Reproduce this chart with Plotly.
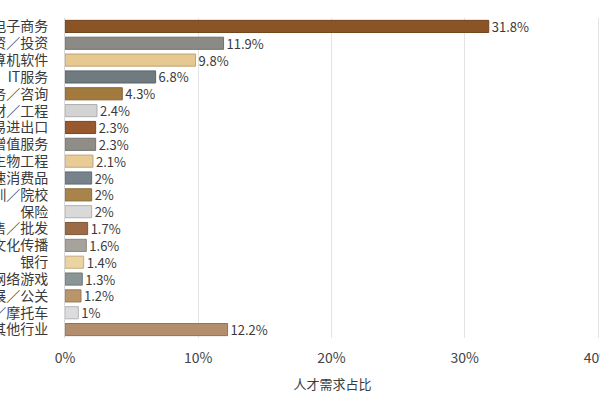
import plotly.graph_objects as go

# industries, top to bottom (left part of each label falls outside the canvas)
industries = [
    "互联网／电子商务", "融资／投资", "计算机软件", "IT服务", "专业服务／咨询",
    "建筑／建材／工程", "贸易进出口", "通信增值服务", "医药生物工程", "快速消费品",
    "教育／培训／院校", "保险", "零售／批发", "媒体文化传播", "银行",
    "网络游戏", "会展／公关", "汽车／摩托车", "其他行业",
]
share = [31.8, 11.9, 9.8, 6.8, 4.3, 2.4, 2.3, 2.3, 2.1, 2.0,
         2.0, 2.0, 1.7, 1.6, 1.4, 1.3, 1.2, 1.0, 12.2]
bar_colors = [
    "#8a5424", "#8c8a85", "#e6c891", "#6f7b7f", "#a27a3e", "#d3d3d3",
    "#97592d", "#8f8d88", "#e8cb95", "#77838a", "#a8844a", "#d9d9d9",
    "#9c6a45", "#a6a39d", "#ecd4a2", "#8a9597", "#b8966a", "#dcdcdf",
    "#b38e6c",
]
x_ticks = [0, 10, 20, 30, 40]

FONT = "Noto Sans CJK SC, Noto Sans, sans-serif"
INK = "#3a3a3a"
GRID = "#e4e4e4"


def darker(hex_color, f=0.82):
    r, g, b = (int(hex_color[i:i + 2], 16) for i in (1, 3, 5))
    return f"rgb({int(r * f)},{int(g * f)},{int(b * f)})"


fig = go.Figure()
fig.add_bar(
    y=industries, x=share, orientation="h",
    marker=dict(color=bar_colors, line=dict(color=[darker(c) for c in bar_colors], width=1)),
    text=[f"{v:g}%" for v in share], textposition="outside",
    constraintext="none",
    textfont=dict(family=FONT, size=13, color=INK),
    cliponaxis=False, showlegend=False,
)

fig.update_layout(
    width=600, height=400,
    paper_bgcolor="#ffffff", plot_bgcolor="#ffffff",
    font=dict(family=FONT, size=13, color=INK),
    margin=dict(l=65, r=0, t=18, b=62, autoexpand=False),
    bargap=0.28,
)
# range runs a hair past 40 so the 40% grid line stays inside the plot
fig.update_xaxes(
    range=[0, 40.15], tickvals=x_ticks, ticktext=[f"{t}%" for t in x_ticks],
    showgrid=True, gridcolor=GRID, gridwidth=1, zeroline=False,
    tickfont=dict(size=14, color="#444444"), ticklabelstandoff=10,
    ticklabeloverflow="allow",
    title=dict(text="人才需求占比", font=dict(size=13, color=INK), standoff=13),
    automargin=False,
)
fig.update_yaxes(
    autorange="reversed", tickmode="array", tickvals=industries,
    showline=True, linecolor="#d8d8d8", linewidth=1,
    tickfont=dict(size=14, color=INK), ticklabelstandoff=13, automargin=False,
)

# drop the browser's default body margin so the chart fills the window exactly
fig.write_html(
    "out.html",
    config={"displayModeBar": False},
    post_script="document.body.style.margin = '0';",
)
